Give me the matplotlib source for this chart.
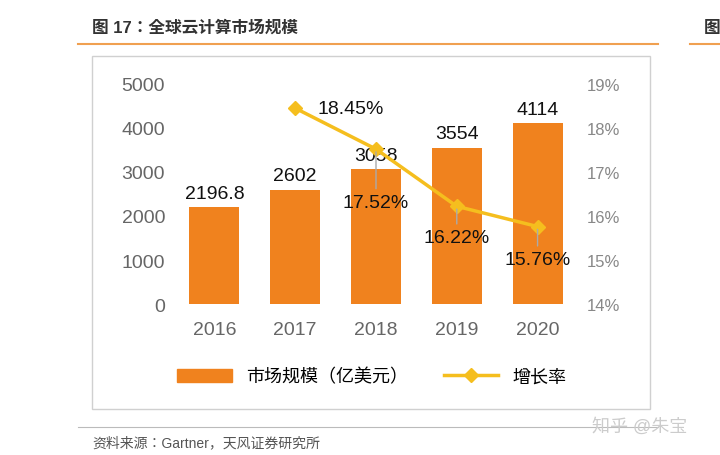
import matplotlib
matplotlib.use("Agg")
import matplotlib.pyplot as plt
from matplotlib.lines import Line2D
from matplotlib.patches import Rectangle

plt.rcParams["font.family"] = ["Liberation Sans", "Noto Sans CJK JP"]

years = ["2016", "2017", "2018", "2019", "2020"]
market = [2196.8, 2602, 3058, 3554, 4114]
market_labels = ["2196.8", "2602", "3058", "3554", "4114"]
growth_years = ["2017", "2018", "2019", "2020"]
growth = [18.45, 17.52, 16.22, 15.76]
growth_labels = ["18.45%", "17.52%", "16.22%", "15.76%"]

BAR = "#F0821E"
LINE = "#F5BE1E"
W, H = 720, 456

fig = plt.figure(figsize=(W / 100, H / 100), dpi=100)
fig.patch.set_facecolor("white")

# header
fig.text(92 / W, 1 - 28 / H, "图 17：全球云计算市场规模", fontsize=12, fontweight="bold",
         color="#333333", va="center")
fig.text(704 / W, 1 - 28 / H, "图", fontsize=12, fontweight="bold", color="#333333", va="center")
fig.add_artist(Line2D([78 / W, 658 / W], [1 - 45 / H] * 2, color="#F0A050", lw=1.5))
fig.add_artist(Line2D([690 / W, 720 / W], [1 - 45 / H] * 2, color="#F0A050", lw=1.5))
fig.add_artist(Rectangle((92 / W, 1 - 410 / H), (650 - 92) / W, (410 - 57) / H,
                         fill=False, ec="#D0D0D0", lw=1))
fig.add_artist(Line2D([78 / W, 658 / W], [1 - 428 / H] * 2, color="#BBBBBB", lw=0.8))
fig.text(92 / W, 1 - 443 / H, "资料来源：Gartner，天风证券研究所", fontsize=10,
         color="#555555", va="center")
fig.text(592 / W, 1 - 427 / H, "知乎 @朱宝", fontsize=13, color="#CCCCCC", va="center")

ax = fig.add_axes([170 / W, 1 - 305 / H, (582 - 170) / W, (305 - 85) / H])
x = list(range(len(years)))
ax.bar(x, market, width=0.62, color=BAR, zorder=2)
for xi, v, lab in zip(x, market, market_labels):
    ax.text(xi, v + 120, lab, ha="center", va="bottom", fontsize=14, color="#111111")
ax.set_ylim(0, 5000)
ax.set_yticks(range(0, 5001, 1000))
ax.set_xlim(-0.55, 4.55)
ax.set_xticks(x)
ax.set_xticklabels(years)
ax.tick_params(colors="#666666", labelsize=14, length=0)
ax.tick_params(axis="x", pad=12)
for s in ax.spines.values():
    s.set_visible(False)

ax2 = ax.twinx()
gx = [years.index(y) for y in growth_years]
ax2.plot(gx, growth, color=LINE, lw=2.5, marker="D", ms=7, zorder=3)
ax2.set_ylim(14, 19)
ax2.set_yticks(range(14, 20))
ax2.set_yticklabels([f"{v}%" for v in range(14, 20)])
ax2.tick_params(colors="#888888", labelsize=12, length=0)
for s in ax2.spines.values():
    s.set_visible(False)

offsets = [(0.28, 18.45), (0.0, 16.3), (0.0, 15.5), (0.0, 15.0)]
for xi, g, lab, (dx, ty) in zip(gx, growth, growth_labels, offsets):
    if dx:
        ax2.text(xi + dx, ty, lab, ha="left", va="center", fontsize=14, color="#111111")
    else:
        ax2.annotate(lab, (xi, g), xytext=(xi, ty), ha="center", va="center",
                     fontsize=14, color="#111111",
                     arrowprops=dict(arrowstyle="-", color="#AAAAAA", lw=1))

handles = [Rectangle((0, 0), 1, 1, color=BAR),
           Line2D([], [], color=LINE, lw=2.5, marker="D", ms=7)]
fig.legend(handles, ["市场规模（亿美元）", "增长率"], loc="center",
           bbox_to_anchor=(372 / W, 1 - 378 / H), ncol=2, frameon=False,
           fontsize=13, handlelength=3, columnspacing=2)

fig.savefig("out.png", dpi=100)
